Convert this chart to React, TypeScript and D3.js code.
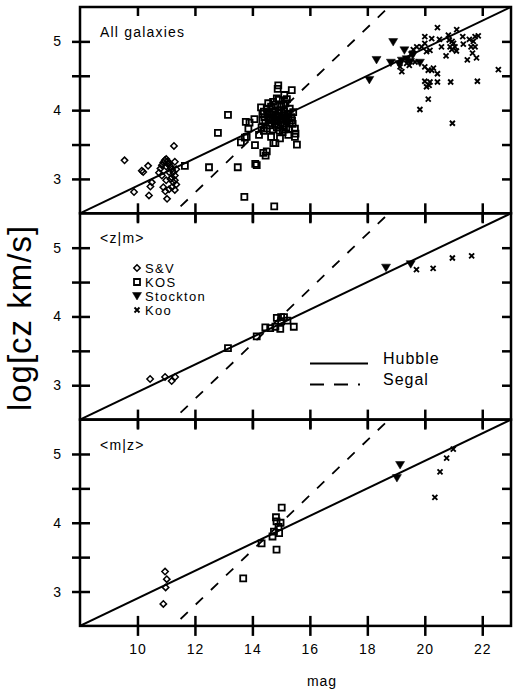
import React, { useEffect, useRef } from "react";
import * as d3 from "d3";

// ---- data: [mag, log cz] ----
const svAll = [
  [9.55, 3.27], [9.88, 2.81], [10.15, 3.12], [10.2, 3.1], [10.37, 3.19], [10.4, 2.76], [10.5, 2.95],
  [10.45, 2.89], [10.75, 3.09], [10.8, 3.15], [10.85, 3.2], [10.9, 3.24], [10.95, 3.27], [11.0, 3.29],
  [11.05, 3.26], [11.1, 3.22], [11.0, 3.18], [11.15, 3.18], [11.2, 3.14], [11.1, 3.1], [11.25, 3.1],
  [11.3, 3.05], [11.2, 3.02], [11.3, 2.98], [11.25, 2.95], [11.35, 2.92], [11.2, 2.88], [11.0, 2.98],
  [10.9, 2.88], [10.97, 2.82], [11.1, 2.85], [11.03, 2.71], [11.27, 3.48], [11.3, 3.25], [11.35, 3.14],
  [11.05, 3.22], [11.15, 3.0], [11.3, 2.84], [10.85, 3.05],
];
const kosAll = [
  [11.65, 3.19], [12.49, 3.17], [12.8, 3.67], [13.15, 3.93], [13.49, 3.17], [13.6, 3.53], [13.72, 2.74],
  [14.76, 2.6], [14.1, 3.22], [14.15, 3.2], [14.09, 3.49], [13.8, 3.61], [13.77, 3.83], [13.9, 3.82],
  [14.07, 3.87], [13.74, 3.6], [14.38, 3.38], [14.5, 3.4], [14.46, 3.34], [14.23, 3.64], [13.86, 3.73],
  [14.65, 3.61], [14.73, 3.52], [14.8, 3.52], [14.96, 3.59], [15.48, 3.73], [15.5, 3.66], [15.48, 3.61],
  [15.55, 3.5], [15.25, 3.64], [15.37, 4.29], [14.9, 4.36], [14.88, 4.31], [15.11, 4.22], [14.85, 4.17],
  [15.2, 4.16], [14.3, 4.04], [14.35, 3.95],
  [14.4, 3.98], [14.5, 4.02], [14.55, 3.9], [14.6, 3.95], [14.65, 4.05], [14.7, 3.88], [14.75, 3.98],
  [14.8, 4.08], [14.82, 3.92], [14.88, 3.85], [14.9, 4.0], [14.95, 3.95], [15.0, 4.05], [15.02, 3.88],
  [15.05, 3.78], [15.1, 3.98], [15.12, 3.92], [15.15, 4.1], [15.2, 3.85], [15.25, 3.95], [15.3, 4.02],
  [15.35, 3.9], [15.4, 3.8], [15.42, 3.97], [14.45, 3.82], [14.6, 3.78], [14.7, 3.72], [14.85, 3.75],
  [14.95, 3.7], [15.05, 3.68], [14.35, 3.85], [14.5, 3.73], [14.62, 3.85], [14.78, 3.8], [14.98, 3.82],
  [15.18, 3.75], [15.3, 3.82], [14.72, 4.12], [14.92, 4.15], [15.08, 4.08], [15.28, 3.72], [14.4, 3.7],
  [14.55, 4.1], [14.32, 3.75], [14.42, 3.9], [14.58, 3.86], [14.68, 3.93], [14.86, 3.9], [15.0, 3.97],
  [15.14, 3.86], [15.26, 3.88], [15.38, 3.85], [14.76, 3.86], [14.9, 3.78], [15.1, 3.72], [14.52, 3.96],
];
const stocktonAll = [
  [18.07, 4.44], [18.32, 4.73], [18.82, 4.69], [18.9, 4.99], [19.11, 4.67], [19.29, 4.87], [19.37, 4.74],
  [19.49, 4.7], [19.58, 4.8], [19.83, 4.69], [19.2, 4.72],
];
const kooAll = [
  [20.44, 5.2], [21.11, 5.17], [20.0, 5.07], [20.24, 5.04], [20.51, 5.03], [20.82, 5.09], [21.32, 5.07],
  [21.75, 5.07], [21.86, 5.08], [19.72, 4.92], [19.89, 4.92], [20.0, 4.97], [20.06, 4.85], [20.18, 4.87],
  [20.58, 4.92], [20.88, 4.92], [20.94, 4.88], [21.05, 4.92], [21.1, 4.86], [21.34, 4.96], [21.61, 4.92],
  [21.75, 4.92], [21.69, 5.0], [20.74, 4.79], [21.48, 4.73], [21.8, 4.76], [21.66, 4.83], [22.56, 4.59],
  [20.0, 4.63], [20.12, 4.58], [20.24, 4.58], [20.3, 4.61], [20.44, 4.53], [20.0, 4.42], [20.18, 4.41],
  [20.44, 4.41], [20.9, 4.41], [21.83, 4.42], [20.06, 4.34], [20.15, 4.36], [20.12, 4.16], [19.83, 4.01],
  [20.96, 3.81], [19.14, 4.63], [19.2, 4.56], [19.37, 4.68], [19.46, 4.65], [19.66, 4.7], [20.95, 5.0],
  [21.0, 4.97], [20.85, 5.02], [21.55, 5.03], [19.6, 4.88], [19.55, 4.83],
];

const svZM = [[10.44, 3.09], [10.96, 3.12], [11.19, 3.06], [11.31, 3.12]];
const kosZM = [
  [13.15, 3.54], [14.15, 3.71], [14.45, 3.84], [14.62, 3.83], [14.8, 3.85], [14.97, 3.82], [14.85, 3.98],
  [15.0, 3.99], [15.1, 3.99], [15.0, 3.93], [15.22, 3.94], [15.44, 3.85],
];
const stocktonZM = [[18.65, 4.71], [19.51, 4.76]];
const kooZM = [[19.71, 4.68], [20.29, 4.7], [20.96, 4.85], [21.63, 4.88]];

const svMZ = [[10.96, 3.29], [11.02, 3.18], [10.98, 3.06], [10.9, 2.82]];
const kosMZ = [
  [13.68, 3.19], [14.32, 3.7], [14.7, 3.8], [14.75, 3.87], [14.93, 3.85], [14.91, 3.94], [14.84, 4.02],
  [14.98, 4.0], [14.82, 4.08], [15.02, 4.22], [14.84, 3.61],
];
const stocktonMZ = [[19.14, 4.84], [19.03, 4.65]];
const kooMZ = [[20.35, 4.37], [20.53, 4.74], [20.76, 4.94], [20.99, 5.07]];

const panelTitles = ["All galaxies", "<z|m>", "<m|z>"];
const legendNames = ["S&V", "KOS", "Stockton", "Koo"];
const hubbleLine = [[8, 2.5], [23, 5.5]];
const segalLine = [[11.5, 2.6], [18.75, 5.5]];
const xTicks = [10, 12, 14, 16, 18, 20, 22];
const yTicks = [3, 3.5, 4, 4.5, 5];

const panels = [
  { title: panelTitles[0], sets: [svAll, kosAll, stocktonAll, kooAll] },
  { title: panelTitles[1], sets: [svZM, kosZM, stocktonZM, kooZM] },
  { title: panelTitles[2], sets: [svMZ, kosMZ, stocktonMZ, kooMZ] },
];

const FONT = "'Liberation Sans', Arial, Helvetica, sans-serif";

// marker shapes, centred on 0,0
const markers = [
  { d: "M0,-3.2L3.2,0L0,3.2L-3.2,0Z", fill: "none", sw: 1.5 },
  { d: "M-3,-3H3V3H-3Z", fill: "none", sw: 1.8 },
  { d: "M-4.5,-3.5H4.5L0,4Z", fill: "#000", sw: 0.5 },
  { d: "M-2.5,-2.5L2.5,2.5M2.5,-2.5L-2.5,2.5", fill: "none", sw: 1.9 },
];

function App() {
  const ref = useRef<SVGSVGElement>(null);

  useEffect(() => {
    const svg = d3.select(ref.current);
    svg.selectAll("*").remove();

    const left = 80, right = 511, top = 7, panelH = 206.3;
    const x = d3.scaleLinear().domain([8, 23]).range([left, right]);

    panels.forEach((p, i) => {
      const y0 = top + i * panelH;
      const y1 = y0 + panelH;
      const y = d3.scaleLinear().domain([2.5, 5.5]).range([y1, y0]);
      const g = svg.append("g");

      const clipId = "clip" + i;
      svg.append("clipPath").attr("id", clipId)
        .append("rect").attr("x", left).attr("y", y0).attr("width", right - left).attr("height", panelH);

      // points
      p.sets.forEach((pts, k) => {
        const m = markers[k];
        g.append("g").selectAll("path")
          .data(pts)
          .join("path")
          .attr("transform", d => `translate(${x(d[0])},${y(d[1])})`)
          .attr("d", m.d)
          .attr("fill", m.fill)
          .attr("stroke", "#000")
          .attr("stroke-width", m.sw);
      });

      // Hubble and Segal lines
      const line = d3.line<number[]>().x(d => x(d[0])).y(d => y(d[1]));
      g.append("path").attr("d", line(hubbleLine)).attr("clip-path", `url(#${clipId})`)
        .attr("fill", "none").attr("stroke", "#000").attr("stroke-width", 2);
      g.append("path").attr("d", line(segalLine)).attr("clip-path", `url(#${clipId})`)
        .attr("fill", "none").attr("stroke", "#000").attr("stroke-width", 1.8)
        .attr("stroke-dasharray", "10,11");

      // axes
      const styleAxis = (a: any) => {
        a.select(".domain").remove();
        a.selectAll("line").attr("stroke", "#000").attr("stroke-width", 2.5);
        a.selectAll("text").attr("font-family", FONT).attr("font-size", 14).attr("fill", "#000");
      };
      g.append("g").attr("transform", `translate(${left},0)`)
        .call(d3.axisLeft(y).tickValues(yTicks).tickSize(8).tickPadding(10)
          .tickFormat(d => (Number(d) % 1 === 0 ? String(d) : "")))
        .call(styleAxis);
      g.append("g").attr("transform", `translate(${left},0)`)
        .call(d3.axisLeft(y).tickValues(yTicks).tickSize(-10).tickFormat(() => ""))
        .call(styleAxis);
      g.append("g").attr("transform", `translate(${right},0)`)
        .call(d3.axisRight(y).tickValues(yTicks).tickSize(-9).tickFormat(() => ""))
        .call(styleAxis);
      g.append("g").attr("transform", `translate(0,${y0})`)
        .call(d3.axisTop(x).tickValues(xTicks).tickSize(-9).tickFormat(() => ""))
        .call(styleAxis);
      g.append("g").attr("transform", `translate(0,${y1})`)
        .call(d3.axisBottom(x).tickValues(xTicks).tickSize(10).tickPadding(8)
          .tickFormat(d => (i === 2 ? String(d) : "")))
        .call(styleAxis);
      g.append("g").attr("transform", `translate(0,${y1})`)
        .call(d3.axisBottom(x).tickValues(xTicks).tickSize(-10).tickFormat(() => ""))
        .call(styleAxis);
      g.selectAll(".tick text").attr("letter-spacing", 1);

      // frame
      g.append("rect").attr("x", left).attr("y", y0).attr("width", right - left).attr("height", panelH)
        .attr("fill", "none").attr("stroke", "#000").attr("stroke-width", 2.5);

      // panel title
      g.append("text").attr("x", 100).attr("y", y0 + 30)
        .attr("font-family", FONT).attr("font-size", 14).attr("letter-spacing", 1.2)
        .text(p.title);

      if (i === 1) {
        // symbol legend
        const lg = g.append("g");
        const rows = [268, 282, 296, 310];
        legendNames.forEach((name, k) => {
          const m = markers[k];
          lg.append("path").attr("transform", `translate(137,${rows[k]})`)
            .attr("d", m.d).attr("fill", m.fill).attr("stroke", "#000").attr("stroke-width", m.sw);
          lg.append("text").attr("x", 145).attr("y", rows[k] + 4.5)
            .attr("font-family", FONT).attr("font-size", 13).attr("letter-spacing", 1.3)
            .text(name);
        });
        // line legend
        lg.append("line").attr("x1", 310).attr("x2", 368).attr("y1", 363.5).attr("y2", 363.5)
          .attr("stroke", "#000").attr("stroke-width", 2);
        lg.append("line").attr("x1", 310).attr("x2", 360).attr("y1", 384.5).attr("y2", 384.5)
          .attr("stroke", "#000").attr("stroke-width", 2).attr("stroke-dasharray", "14,10");
        lg.append("text").attr("x", 383).attr("y", 364)
          .attr("font-family", FONT).attr("font-size", 16).attr("letter-spacing", 1).text("Hubble");
        lg.append("text").attr("x", 383).attr("y", 385)
          .attr("font-family", FONT).attr("font-size", 16).attr("letter-spacing", 1).text("Segal");
      }
    });

    // axis titles
    svg.append("text").attr("x", 322).attr("y", 686).attr("text-anchor", "middle")
      .attr("font-family", FONT).attr("font-size", 14).attr("letter-spacing", 1).text("mag");
    svg.append("text").attr("transform", "translate(31,318) rotate(-90)").attr("text-anchor", "middle")
      .attr("font-family", FONT).attr("font-size", 33).attr("letter-spacing", 1).text("log[cz km/s]");
  }, []);

  return (
    <svg ref={ref} width={518} height={697}
      style={{ position: "absolute", left: 0, top: 0, background: "#fff" }}></svg>
  );
}

export default App;
